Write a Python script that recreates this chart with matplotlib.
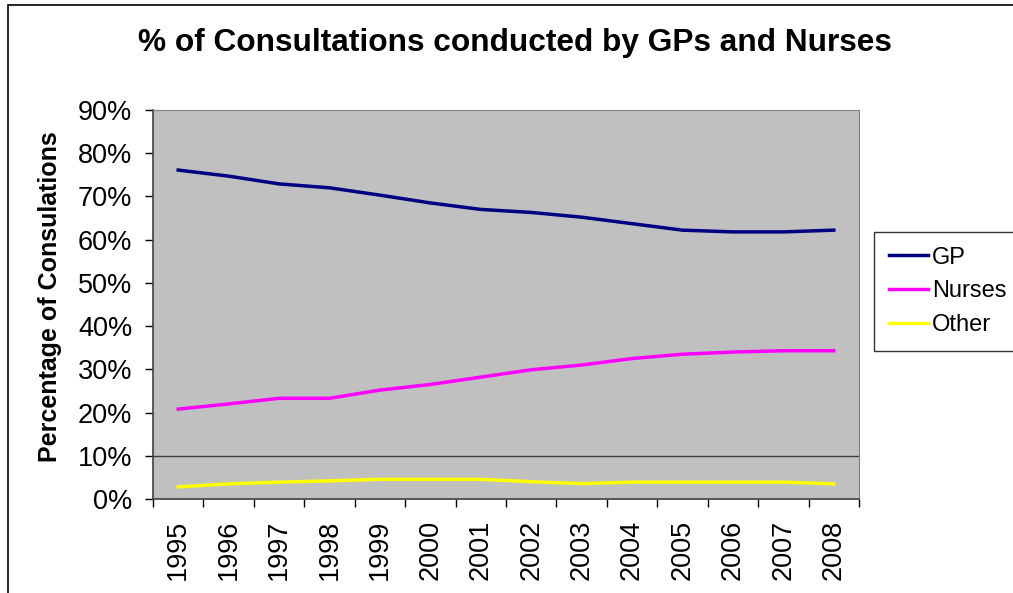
import numpy as np
import matplotlib.pyplot as plt
from matplotlib.patches import Rectangle

years = [str(y) for y in range(1995, 2009)]
gp = [76.1, 74.7, 72.9, 72.0, 70.3, 68.5, 67.0, 66.3, 65.2, 63.7, 62.2, 61.8, 61.8, 62.2]
nurses = [20.8, 22.0, 23.3, 23.3, 25.2, 26.5, 28.2, 29.9, 31.0, 32.5, 33.5, 34.0, 34.3, 34.3]
other = [2.8, 3.5, 3.9, 4.2, 4.55, 4.55, 4.55, 4.0, 3.55, 3.9, 3.9, 3.9, 3.9, 3.5]

plt.rcParams['font.family'] = ['Liberation Sans', 'DejaVu Sans']

W, H = 1013, 593
fig = plt.figure(figsize=(W / 100, H / 100), dpi=100)

# outer chart border (runs off the right and bottom edges)
fig.patches.append(Rectangle((8 / W, -0.1), 1.2, 1 - 5 / H + 0.1, transform=fig.transFigure,
                             fill=False, edgecolor='black', lw=1.2))

ax = fig.add_axes([153 / W, 1 - 499 / H, 706 / W, 389 / H])
ax.set_facecolor('#c0c0c0')

x = np.arange(len(years))
ax.plot(x, np.array(gp) / 100, color='#000080', lw=2.5, label='GP')
ax.plot(x, np.array(nurses) / 100, color='#ff00ff', lw=2.5, label='Nurses')
ax.plot(x, np.array(other) / 100, color='#ffff00', lw=2.5, label='Other')

ax.axhline(0.10, color='#404040', lw=1, zorder=1)

ax.set_xlim(-0.5, len(years) - 0.5)
ax.set_ylim(0, 0.9)
ax.set_yticks(np.arange(0, 0.91, 0.1))
ax.set_yticklabels(['%d%%' % v for v in range(0, 91, 10)], fontsize=19.5)
ax.set_xticks(x)
ax.set_xticklabels(years, rotation=90, fontsize=19.5)
ax.set_xticks(np.arange(-0.5, len(years), 1), minor=True)
ax.tick_params(axis='x', which='major', length=0, pad=15)
ax.tick_params(axis='x', which='minor', length=6, width=1, direction='out')
ax.tick_params(axis='y', length=6, width=1, direction='out', pad=9)

for side in ['top', 'right']:
    ax.spines[side].set_color('#808080')
for side in ['left', 'bottom']:
    ax.spines[side].set_color('#404040')
    ax.spines[side].set_linewidth(1.2)

ax.set_ylabel('Percentage of Consulations', fontsize=18, fontweight='bold')
ax.yaxis.set_label_coords(62 / W, 0.5, transform=fig.transFigure)

fig.text(515 / W, 1 - 43 / H, '% of Consultations conducted by GPs and Nurses',
         ha='center', va='center', fontsize=22.8, fontweight='bold')

leg = fig.legend(loc='upper left', bbox_to_anchor=(874 / W, 1 - 232 / H), fontsize=17,
                 frameon=True, fancybox=False, edgecolor='black', handlelength=1.65,
                 handletextpad=0.2, borderpad=0.62, labelspacing=0.5, borderaxespad=0)
leg.get_frame().set_linewidth(1)

fig.savefig('out.png', dpi=100)
